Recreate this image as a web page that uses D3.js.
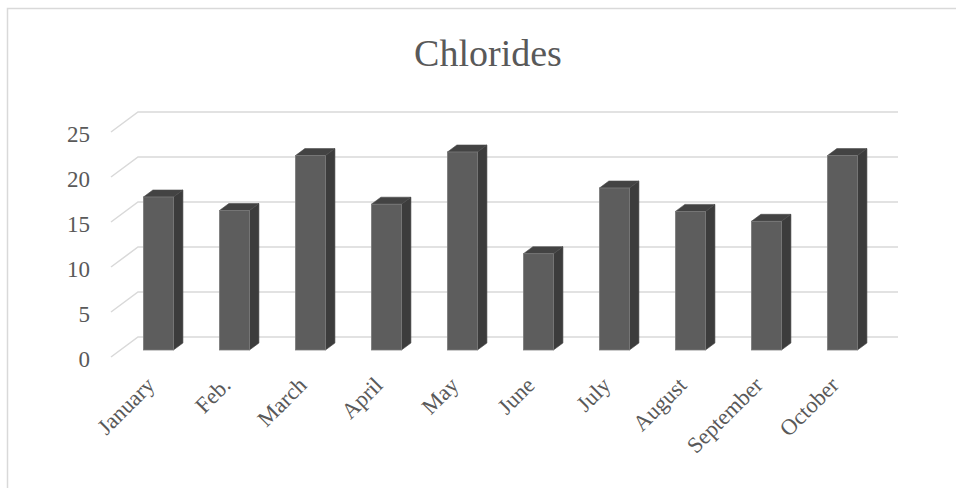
<!DOCTYPE html>
<html>
<head>
<meta charset="utf-8">
<script src="https://cdn.jsdelivr.net/npm/d3@7"></script>
<style>
  html, body { margin: 0; padding: 0; background: #fff; }
  svg { display: block; }
</style>
</head>
<body>
<svg id="chart" width="956" height="488"></svg>
<script>
const categories = ["January", "Feb.", "March", "April", "May", "June", "July", "August", "September", "October"];
const values = [17.0, 15.5, 21.6, 16.2, 22.0, 10.7, 18.0, 15.4, 14.3, 21.6];
const yTicks = [0, 5, 10, 15, 20, 25];
const title = "Chlorides";

const W = 956, H = 488;
const svg = d3.select("#chart");
const font = "'Liberation Serif', 'DejaVu Serif', serif";
const textColor = "#595959";

// oblique 3D projection: depth d in [0,1], 0 = front, 1 = back wall
const DX = 27, DY = -20;
const x = d3.scaleBand().domain(categories).range([111, 871]).paddingInner(0.605).paddingOuter(0.3025);
const y = d3.scaleLinear().domain([0, 25]).range([357, 132]);
const px = (sx, d) => sx + d * DX;
const py = (sy, d) => sy + d * DY;

// chart border
svg.append("rect").attr("x", 7.5).attr("y", 8.5).attr("width", 1000).attr("height", 1000)
  .attr("fill", "none").attr("stroke", "#d9d9d9").attr("stroke-width", 1.5);

// title
svg.append("text").attr("x", 488).attr("y", 66).attr("text-anchor", "middle")
  .attr("font-family", font).attr("font-size", 38).attr("fill", textColor).text(title);

// gridlines: side wall diagonal + back wall horizontal
const xL = x.range()[0], xR = x.range()[1];
const grid = svg.append("g");
yTicks.forEach(t => {
  const pts = [[px(xL, 0), py(y(t), 0)], [px(xL, 1), py(y(t), 1)], [px(xR, 1), py(y(t), 1)]];
  grid.append("path").attr("d", d3.line()(pts)).attr("fill", "none")
    .attr("stroke", "#d9d9d9").attr("stroke-width", 1.5);
});

// y tick labels
svg.append("g").selectAll("text").data(yTicks).join("text")
  .attr("x", 90).attr("y", d => y(d) + 2).attr("dy", "0.35em").attr("text-anchor", "end")
  .attr("font-family", font).attr("font-size", 23).attr("fill", textColor).text(d => d);

// bars
const d0 = 0.35, d1 = 0.70;
const bars = svg.append("g");
categories.forEach((c, i) => {
  const v = values[i];
  const xl = x(c), xr = x(c) + x.bandwidth();
  const yb = y(0), yt = y(v);
  // side face
  bars.append("path").attr("d", d3.line()([
    [px(xr, d0), py(yb, d0)], [px(xr, d1), py(yb, d1)], [px(xr, d1), py(yt, d1)], [px(xr, d0), py(yt, d0)]
  ]) + "Z").attr("fill", "#3c3c3c").attr("stroke", "#444").attr("stroke-width", 0.6);
  // top face
  bars.append("path").attr("d", d3.line()([
    [px(xl, d0), py(yt, d0)], [px(xr, d0), py(yt, d0)], [px(xr, d1), py(yt, d1)], [px(xl, d1), py(yt, d1)]
  ]) + "Z").attr("fill", "#434343").attr("stroke", "#4a4a4a").attr("stroke-width", 0.6);
  // front face
  bars.append("rect").attr("x", px(xl, d0)).attr("y", py(yt, d0))
    .attr("width", xr - xl).attr("height", yb - yt)
    .attr("fill", "#5d5d5d").attr("stroke", "#7a7a7a").attr("stroke-width", 0.8);
});

// x labels
svg.append("g").selectAll("text").data(categories).join("text")
  .attr("transform", d => `translate(${px(x(d) + x.bandwidth() / 2, d0) - 8},${381}) rotate(-45)`)
  .attr("text-anchor", "end").attr("dy", "0.35em")
  .attr("font-family", font).attr("font-size", 22.5).attr("fill", textColor).text(d => d);
</script>
</body>
</html>
